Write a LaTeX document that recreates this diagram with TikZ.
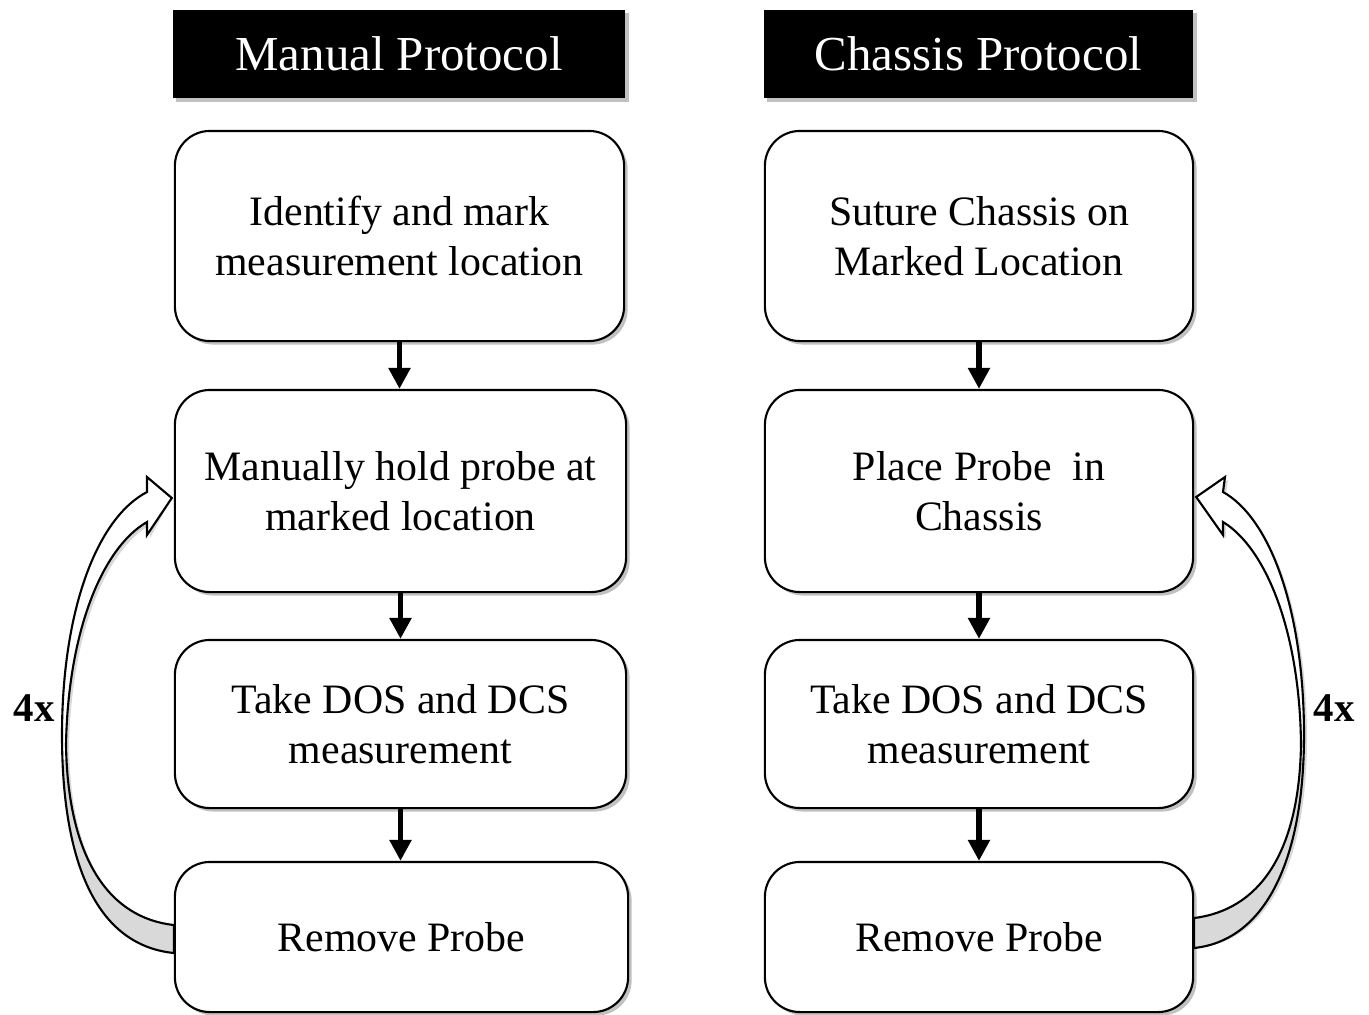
\documentclass[tikz,border=0pt]{standalone}
\usepackage{fontspec}
\setmainfont{Liberation Serif}
\usetikzlibrary{shadows,arrows.meta,calc}

\tikzset{
  softshadow/.style={drop shadow={shadow xshift=0.035cm, shadow yshift=-0.035cm, opacity=0.35, fill=black!70}},
  titlebox/.style={fill=black, text=white, inner sep=0pt, softshadow,
    font=\fontsize{13.9}{16}\selectfont},
  stepbox/.style={draw=black, line width=0.6pt, fill=white, rounded corners=0.35cm,
    align=center, inner sep=0pt, softshadow, font=\fontsize{11.9}{14.2}\selectfont},
  flow/.style={line width=1.5pt, -{Triangle[width=6pt,length=6pt]}},
  loopedge/.style={draw=black, line width=0.6pt, line join=miter},
  countlabel/.style={font=\bfseries\fontsize{11.6}{13}\selectfont},
}

\begin{document}
\begin{tikzpicture}[x=0.01cm, y=-0.01cm]
\useasboundingbox (0,0) rectangle (1369,1014);

% column headers
\node[titlebox, minimum width=4.52cm, minimum height=0.88cm] (mt) at (399,54) {Manual Protocol};
\node[titlebox, minimum width=4.29cm, minimum height=0.88cm] (ct) at (978.5,54) {Chassis Protocol};

% manual protocol steps
\node[stepbox, minimum width=4.49cm, minimum height=2.10cm] (m1) at (399.5,236) {Identify and mark\\measurement location};
\node[stepbox, minimum width=4.51cm, minimum height=2.02cm] (m2) at (400.5,491) {Manually hold probe at\\marked location};
\node[stepbox, minimum width=4.51cm, minimum height=1.68cm] (m3) at (400.5,724) {Take DOS and DCS\\measurement};
\node[stepbox, minimum width=4.53cm, minimum height=1.50cm] (m4) at (401.5,937) {Remove Probe};

% chassis protocol steps
\node[stepbox, minimum width=4.28cm, minimum height=2.10cm] (c1) at (979,236) {Suture Chassis on\\Marked Location};
\node[stepbox, minimum width=4.28cm, minimum height=2.02cm] (c2) at (979,491) {Place Probe~ in\\Chassis};
\node[stepbox, minimum width=4.28cm, minimum height=1.68cm] (c3) at (979,724) {Take DOS and DCS\\measurement};
\node[stepbox, minimum width=4.28cm, minimum height=1.50cm] (c4) at (979,937) {Remove Probe};

% step-to-step arrows
\draw[flow] (m1.south) -- (m1.south |- m2.north);
\draw[flow] (m2.south) -- (m2.south |- m3.north);
\draw[flow] (m3.south) -- (m3.south |- m4.north);
\draw[flow] (c1.south) -- (c1.south |- c2.north);
\draw[flow] (c2.south) -- (c2.south |- c3.north);
\draw[flow] (c3.south) -- (c3.south |- c4.north);

% repeat loop, manual side
\coordinate (mtailA) at ($(m4.west)+(0,16)$);
\coordinate (mtailB) at ($(m4.west)+(0,-12)$);
\coordinate (mtip) at ($(m2.west)+(-2,7)$);
\def\manualloop{(mtailA) .. controls (95,945) and (62,860) .. (62,735)
  .. controls (62,610) and (97,518) .. (147,492)
  -- (147,477) -- (mtip) -- (147,535) -- (147,522)
  .. controls (102,548) and (68,632) .. (66,745)
  .. controls (68,860) and (110,918) .. (mtailB) -- cycle}
\fill[black!30, opacity=0.5] [shift={(3,3)}] \manualloop;
\fill[white] \manualloop;
\begin{scope}
  \clip (0,760) rectangle (176,1014);
  \fill[black!15] \manualloop;
\end{scope}
\draw[loopedge] \manualloop;

% repeat loop, chassis side
\coordinate (ctailA) at ($(c4.east)+(0,11)$);
\coordinate (ctailB) at ($(c4.east)+(0,-19)$);
\coordinate (ctip) at ($(c2.east)+(2,6)$);
\def\chassisloop{(ctailA) .. controls (1268,940) and (1304,855) .. (1304,735)
  .. controls (1304,610) and (1270,518) .. (1223,492)
  -- (1225,477) -- (ctip) -- (1223,535) -- (1223,522)
  .. controls (1266,548) and (1300,632) .. (1301,745)
  .. controls (1299,855) and (1258,910) .. (ctailB) -- cycle}
\fill[black!30, opacity=0.5] [shift={(3,3)}] \chassisloop;
\fill[white] \chassisloop;
\begin{scope}
  \clip (1192,760) rectangle (1369,1014);
  \fill[black!15] \chassisloop;
\end{scope}
\draw[loopedge] \chassisloop;

% repeat counts
\node[countlabel] (mcount) at (34,708) {4x};
\node[countlabel] (ccount) at (1334,708) {4x};
\end{tikzpicture}
\end{document}
